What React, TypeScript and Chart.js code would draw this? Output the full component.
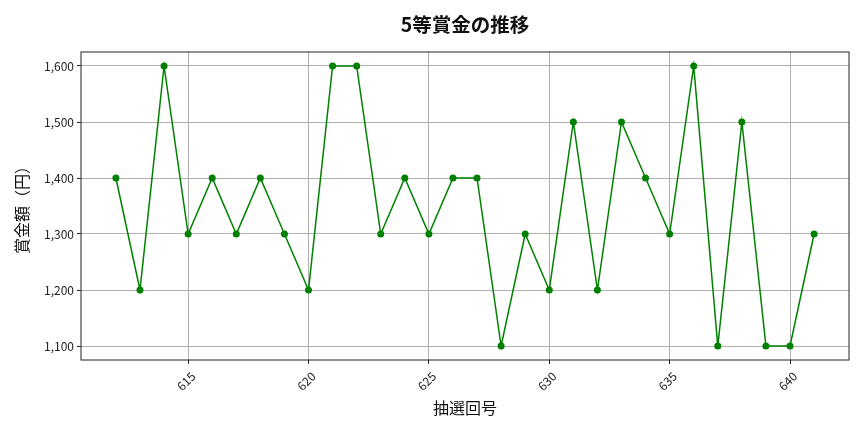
import { useEffect, useRef } from "react"
import { Chart, registerables } from "chart.js"

Chart.register(...registerables)

// draw numbers 612..641
const rounds = [
  612, 613, 614, 615, 616, 617, 618, 619, 620, 621, 622, 623, 624, 625, 626,
  627, 628, 629, 630, 631, 632, 633, 634, 635, 636, 637, 638, 639, 640, 641,
]
const prizes = [
  1400, 1200, 1600, 1300, 1400, 1300, 1400, 1300, 1200, 1600, 1600, 1300, 1400, 1300, 1400,
  1400, 1100, 1300, 1200, 1500, 1200, 1500, 1400, 1300, 1600, 1100, 1500, 1100, 1100, 1300,
]
const xTicks = [615, 620, 625, 630, 635, 640]
const yTicks = [1100, 1200, 1300, 1400, 1500, 1600]

const FONT = "'Noto Sans CJK JP', 'Noto Sans', sans-serif"

// matplotlib-style box around the plot area
const frame = {
  id: "frame",
  afterDraw(chart: Chart) {
    const { ctx, chartArea: a } = chart
    ctx.save()
    ctx.strokeStyle = "#222"
    ctx.lineWidth = 1
    ctx.strokeRect(a.left, a.top, a.right - a.left, a.bottom - a.top)
    ctx.restore()
  },
}

export default function App() {
  const canvasRef = useRef<HTMLCanvasElement>(null)

  useEffect(() => {
    document.body.style.margin = "0"
    if (!canvasRef.current) return
    const chart = new Chart(canvasRef.current, {
      type: "line",
      data: {
        datasets: [
          {
            data: rounds.map((r, i) => ({ x: r, y: prizes[i] })),
            borderColor: "#008000",
            backgroundColor: "#008000",
            borderWidth: 1.5,
            pointRadius: 3.5,
            pointHoverRadius: 3.5,
            pointBorderWidth: 0,
            tension: 0,
          },
        ],
      },
      options: {
        responsive: false,
        animation: false,
        layout: { padding: { left: 0, right: 15, top: 0, bottom: 0 } },
        plugins: {
          legend: { display: false },
          tooltip: { enabled: false },
          title: {
            display: true,
            fullSize: false,
            text: "5等賞金の推移",
            color: "#111",
            font: { family: FONT, size: 19.5, weight: "bold", lineHeight: 1.2 },
            padding: { top: 13, bottom: 15.6 },
          },
        },
        scales: {
          x: {
            type: "linear",
            min: 610.55,
            max: 642.45,
            afterBuildTicks: (scale) => {
              scale.ticks = xTicks.map((v) => ({ value: v }))
            },
            afterFit: (scale) => {
              scale.height = 72
            },
            ticks: {
              color: "#222",
              font: { family: FONT, size: 12 },
              maxRotation: 45,
              minRotation: 45,
              padding: 5,
              labelOffset: 5,
              callback: (v) => String(v),
            },
            grid: { color: "#b0b0b0", tickColor: "#222", tickLength: 4 },
            border: { display: false },
            title: {
              display: true,
              text: "抽選回号",
              color: "#111",
              font: { family: FONT, size: 16, lineHeight: 1.2 },
              padding: { top: 0, bottom: 14.4 },
            },
          },
          y: {
            min: 1075,
            max: 1625,
            afterBuildTicks: (scale) => {
              scale.ticks = yTicks.map((v) => ({ value: v }))
            },
            afterFit: (scale) => {
              scale.width = 81
            },
            ticks: {
              color: "#222",
              font: { family: FONT, size: 12 },
              padding: 3,
              callback: (v) => Number(v).toLocaleString("en-US"),
            },
            grid: { color: "#b0b0b0", tickColor: "#222", tickLength: 4 },
            border: { display: false },
            title: {
              display: true,
              text: "賞金額（円）",
              color: "#111",
              font: { family: FONT, size: 16, lineHeight: 1.2 },
              padding: { top: 12.4, bottom: 0 },
            },
          },
        },
      },
      plugins: [frame],
    })
    return () => chart.destroy()
  }, [])

  return (
    <div style={{ width: 864, height: 432, background: "#fff" }}>
      <canvas ref={canvasRef} width={864} height={432} />
    </div>
  )
}
